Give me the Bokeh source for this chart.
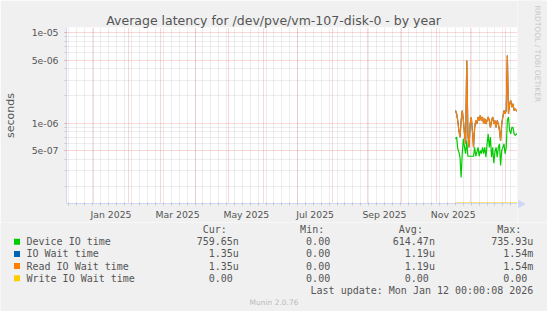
import math
import pandas as pd
from bokeh.plotting import figure
from bokeh.models import Range1d, FixedTicker, ColumnDataSource, GridBox
from bokeh.core.properties import value
from bokeh.embed import file_html
from bokeh.resources import INLINE

# ---------------- data ----------------
chart_title = "Average latency for /dev/pve/vm-107-disk-0 - by year"
y_label = "seconds"
watermark = "RRDTOOL / TOBI OETIKER"
version_text = "Munin 2.0.76"
last_update_text = "Last update: Mon Jan 12 00:00:08 2026"
last_update_time = "2026-01-12 00:00:08"
range_days = 400

series_names = ["Device IO time", "IO Wait time", "Read IO Wait time", "Write IO Wait time"]
series_colors = ["#00CC00", "#0066B3", "#FF8000", "#FFCC00"]
col_headers = ["Cur:", "Min:", "Avg:", "Max:"]
cur_vals = ["759.65n", "1.35u", "1.35u", "0.00"]
min_vals = ["0.00", "0.00", "0.00", "0.00"]
avg_vals = ["614.47n", "1.19u", "1.19u", "0.00"]
max_vals = ["735.93u", "1.54m", "1.54m", "0.00"]

y_ticks = [5e-07, 1e-06, 5e-06, 1e-05]
y_tick_labels = ["5e-07", "1e-06", "5e-06", "1e-05"]
y_minor_ticks = [2e-07, 3e-07, 4e-07, 6e-07, 7e-07, 8e-07, 9e-07,
                 2e-06, 3e-06, 4e-06, 6e-06, 7e-06, 8e-06, 9e-06]
y_min, y_max = 1.29e-07, 1.146e-05

month_label_names = ["Jan 2025", "Mar 2025", "May 2025", "Jul 2025", "Sep 2025", "Nov 2025"]
month_label_starts = ["2025-01-01", "2025-03-01", "2025-05-01", "2025-07-01", "2025-09-01", "2025-11-01"]
week_grid_anchor = "2024-12-10"

data_start = "2025-11-18"
device_io_time = [6.7e-07, 7.0e-07, 5.2e-07, 4.8e-07, 4.2e-07, 2.5e-07, 4.6e-07, 6.7e-07, 5.4e-07, 4.6e-07,
                  6.4e-07, 4.3e-07, 4.3e-07, 4.3e-07, 4.3e-07, 4.3e-07, 4.3e-07, 5.4e-07, 4.3e-07, 4.8e-07,
                  5.4e-07, 4.3e-07, 5.0e-07, 4.6e-07, 5.4e-07, 4.6e-07, 5.4e-07, 4.2e-07, 5.9e-07, 7.6e-07,
                  5.4e-07, 7.0e-07, 4.2e-07, 5.4e-07, 3.6e-07, 4.8e-07, 5.4e-07, 4.2e-07, 5.4e-07, 5.9e-07,
                  3.4e-07, 5.0e-07, 5.4e-07, 5.9e-07, 4.6e-07, 5.4e-07, 1.07e-06, 1.17e-06, 8.3e-07, 7.6e-07,
                  9.0e-07, 9.0e-07, 7.6e-07, 7.3e-07, 7.6e-07, 7.6e-07]
io_wait_time = [1.38e-06, 1.27e-06, 1.07e-06, 8.3e-07, 7.0e-07, 1.07e-06, 1.38e-06, 1.07e-06, 7.6e-07, 5.9e-07,
                4.94e-06, 7.6e-07, 5.4e-07, 9.8e-07, 1.17e-06, 8.3e-07, 5.4e-07, 9.0e-07, 1.07e-06, 9.8e-07,
                1.17e-06, 1.07e-06, 1.22e-06, 1.07e-06, 1.17e-06, 9.8e-07, 1.12e-06, 9.8e-07, 1.07e-06, 1.17e-06,
                1.07e-06, 9.0e-07, 1.07e-06, 1.17e-06, 9.8e-07, 1.07e-06, 9.0e-07, 1.07e-06, 9.8e-07, 8.3e-07,
                6.4e-07, 9.8e-07, 1.17e-06, 1.38e-06, 1.27e-06, 1.38e-06, 5.61e-06, 1.27e-06, 1.64e-06, 1.78e-06,
                1.50e-06, 1.64e-06, 1.38e-06, 1.44e-06, 1.38e-06, 1.35e-06]
read_io_wait_time = [1.38e-06, 1.27e-06, 1.07e-06, 8.3e-07, 7.0e-07, 1.07e-06, 1.38e-06, 1.07e-06, 7.6e-07, 5.9e-07,
                     4.94e-06, 7.6e-07, 5.4e-07, 9.8e-07, 1.17e-06, 8.3e-07, 5.4e-07, 9.0e-07, 1.07e-06, 9.8e-07,
                     1.17e-06, 1.07e-06, 1.22e-06, 1.07e-06, 1.17e-06, 9.8e-07, 1.12e-06, 9.8e-07, 1.07e-06, 1.17e-06,
                     1.07e-06, 9.0e-07, 1.07e-06, 1.17e-06, 9.8e-07, 1.07e-06, 9.0e-07, 1.07e-06, 9.8e-07, 8.3e-07,
                     6.4e-07, 9.8e-07, 1.17e-06, 1.38e-06, 1.27e-06, 1.38e-06, 5.61e-06, 1.27e-06, 1.64e-06, 1.78e-06,
                     1.50e-06, 1.64e-06, 1.38e-06, 1.44e-06, 1.38e-06, 1.35e-06]
write_io_wait_time = [0.0] * 56

# ---------------- helpers ----------------
EPOCH = pd.Timestamp("1970-01-01")


def ms(ts):
    return (pd.Timestamp(ts) - EPOCH) / pd.Timedelta(milliseconds=1)


end_ts = pd.Timestamp(last_update_time)
start_ts = end_ts - pd.Timedelta(days=range_days)

dates = pd.date_range(data_start, periods=len(device_io_time), freq="D")
x_ms = [ms(d) for d in dates]

month_starts = [ms(d) for d in pd.date_range(start_ts.normalize(), end_ts, freq="MS")]
week_lines = [ms(d) for d in pd.date_range(week_grid_anchor, end_ts, freq="7D")]
label_pos = []
for s in month_label_starts:
    a = pd.Timestamp(s)
    b = a + pd.offsets.MonthBegin(1)
    label_pos.append(ms(a + (b - a) / 2))

FONT = "DejaVu Sans"
MONO = "DejaVu Sans Mono"
TXT = "#555555"
BG = "#F0F0F0"
AXIS_C = "#CFD6F8"
MGRID = "#DE4F4F"
GRID = "#A8A8A8"

W, H = 547, 311
FL, FRAME_R, FT, FB = 66, 517, 27, 203     # plot-area edges in page pixels
LEG_H = 89
MAIN_H = H - LEG_H                          # main figure height (title + frame + x axis)


def pixel_fig(x0, x1, y0, y1):
    f = figure(width=int(x1 - x0), height=int(y1 - y0),
               x_range=Range1d(x0, x1), y_range=Range1d(y1, y0),
               output_backend="svg", toolbar_location=None,
               x_axis_location=None, y_axis_location=None,
               min_border_left=0, min_border_right=0, min_border_top=0, min_border_bottom=0,
               background_fill_color=BG, border_fill_color=BG, outline_line_color=None,
               frame_align=False)
    f.xgrid.visible = False
    f.ygrid.visible = False
    return f


# ---------------- main plot ----------------
p = figure(width=FRAME_R, height=MAIN_H, x_axis_type="datetime", y_axis_type="log",
           x_range=Range1d(ms(start_ts), ms(end_ts)), y_range=Range1d(y_min, y_max),
           output_backend="svg", toolbar_location=None, title=chart_title,
           min_border_left=FL, min_border_right=0, min_border_top=FT,
           min_border_bottom=MAIN_H - FB,
           background_fill_color="white", border_fill_color=BG, outline_line_color=None,
           frame_align=False)

title_w = 335.5
p.title.align = "left"
p.title.offset = W / 2 - title_w / 2 - FL
p.title.vertical_align = "bottom"
p.title.standoff = 0
p.title.text_font = FONT
p.title.text_font_size = "12.5px"
p.title.text_font_style = "normal"
p.title.text_color = TXT

p.xaxis.ticker = FixedTicker(ticks=label_pos, minor_ticks=week_lines)
p.xaxis.major_label_overrides = {t: l for t, l in zip(label_pos, month_label_names)}
p.xaxis.major_tick_line_color = None
p.xaxis.major_tick_out = 0
p.xaxis.major_tick_in = 0
p.xaxis.minor_tick_line_color = "#C8C8C8"
p.xaxis.minor_tick_out = 2
p.xaxis.minor_tick_in = 1
p.xaxis.axis_line_color = AXIS_C
p.xaxis.major_label_text_font = FONT
p.xaxis.major_label_text_font_size = "9.3px"
p.xaxis.major_label_text_color = TXT
p.xaxis.major_label_standoff = 3

p.yaxis.ticker = FixedTicker(ticks=y_ticks, minor_ticks=y_minor_ticks)
p.yaxis.major_label_overrides = {t: l for t, l in zip(y_ticks, y_tick_labels)}
p.yaxis.axis_line_color = AXIS_C
p.yaxis.major_tick_line_color = MGRID
p.yaxis.major_tick_line_alpha = 0.5
p.yaxis.major_tick_out = 2
p.yaxis.major_tick_in = 0
p.yaxis.minor_tick_line_color = "#C8C8C8"
p.yaxis.minor_tick_out = 2
p.yaxis.minor_tick_in = 0
p.yaxis.major_label_text_font = FONT
p.yaxis.major_label_text_font_size = "9.3px"
p.yaxis.major_label_text_color = TXT
p.yaxis.major_label_standoff = 6
p.yaxis.axis_label = y_label
p.yaxis.axis_label_text_font = FONT
p.yaxis.axis_label_text_font_size = "11px"
p.yaxis.axis_label_text_font_style = "normal"
p.yaxis.axis_label_text_color = TXT
p.yaxis.axis_label_standoff = 12

p.xgrid.ticker = FixedTicker(ticks=month_starts, minor_ticks=week_lines)
p.ygrid.ticker = FixedTicker(ticks=y_ticks, minor_ticks=y_minor_ticks)
for g in (p.xgrid, p.ygrid):
    g.grid_line_color = MGRID
    g.grid_line_alpha = 0.45
    g.grid_line_dash = "1 1"
    g.minor_grid_line_color = GRID
    g.minor_grid_line_alpha = 0.4
    g.minor_grid_line_dash = "1 1"

series_vals = [device_io_time, io_wait_time, read_io_wait_time, write_io_wait_time]
for name, col, vals in zip(series_names, series_colors, series_vals):
    yv = [v if v > 0 else y_min for v in vals]
    src = ColumnDataSource(dict(x=x_ms, y=yv))
    p.line("x", "y", source=src, line_color=col, line_width=2 if max(vals) == 0 else 1.2)

# ---------------- right strip (watermark + x arrow) ----------------
side = pixel_fig(FRAME_R, W, 0, MAIN_H)
side.text(x=[537], y=[5], text=[watermark], angle=-math.pi / 2, text_font=value(FONT),
          text_font_size="7.5px", text_color="#C8C8C8", text_align="left", text_baseline="middle")
side.segment(x0=[FRAME_R], y0=[FB + 0.5], x1=[518.5], y1=[FB + 0.5], line_color=AXIS_C, line_width=1)
side.patch(x=[518, 524.5, 518], y=[FB - 3, FB + 0.5, FB + 4], fill_color=AXIS_C, line_color=AXIS_C)

# ---------------- legend panel (bottom) ----------------
q = pixel_fig(0, W, MAIN_H, H)

header_y = 228.7
row_ys = [241.2, 253.4, 265.5, 277.8]
last_y, version_y = 290, 302
col_ends = [238.3, 335.7, 434.4, 532.8]
char_w = 6.0


def fmt(v):
    return v if v[-1].isalpha() else v + "\u00a0"


q.text(x=[c - 2 * char_w for c in col_ends], y=[header_y] * 4, text=col_headers,
       text_font=value(MONO), text_font_size="10px", text_color=TXT,
       text_align="right", text_baseline="middle")
q.rect(x=[16.5] * 4, y=row_ys, width=6, height=6, fill_color=series_colors, line_color=None)
q.text(x=[26] * 4, y=row_ys, text=series_names, text_font=value(MONO), text_font_size="10px",
       text_color=TXT, text_align="left", text_baseline="middle")
for ce, vals in zip(col_ends, [cur_vals, min_vals, avg_vals, max_vals]):
    q.text(x=[ce] * 4, y=row_ys, text=[fmt(v) for v in vals], text_font=value(MONO),
           text_font_size="10px", text_color=TXT, text_align="right", text_baseline="middle")
q.text(x=[col_ends[-1]], y=[last_y], text=[last_update_text], text_font=value(MONO),
       text_font_size="10px", text_color=TXT, text_align="right", text_baseline="middle")
q.text(x=[W / 2], y=[version_y], text=[version_text], text_font=value(FONT), text_font_size="7.5px",
       text_color="#BBBBBB", text_align="center", text_baseline="middle")

layout = GridBox(children=[(p, 0, 0), (side, 0, 1), (q, 1, 0, 1, 2)], spacing=0)
open("out.html", "w").write(file_html(layout, INLINE))
